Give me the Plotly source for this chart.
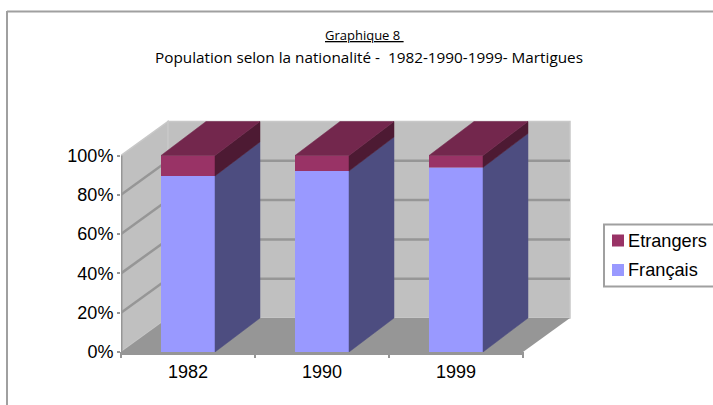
import plotly.graph_objects as go

categories = ["1982", "1990", "1999"]
francais = [89.6, 92.1, 93.9]
etrangers = [10.4, 7.9, 6.1]
y_ticks = [0, 20, 40, 60, 80, 100]
y_labels = ["0%", "20%", "40%", "60%", "80%", "100%"]
legend_names = ["Etrangers", "Français"]

W, H = 713, 405
L, R, T, B = 121, 575, 115, 352
UX = 134.0      # px per category
UY = 196.5 / 100
DX = 47 / UX    # wall depth, category units
DXB = 45 / UX   # bar depth
DY = 34 / UY    # depth, percent units
BW = 54 / UX    # bar width
x0, x1 = -0.5, -0.5 + (R - L) / UX
xs = list(range(len(categories)))
xl, xr = -0.5, len(categories) - 0.5

C_WALL, C_FLOOR, C_GRID = "#C0C0C0", "#969696", "#969696"
C_FR, C_FR_SIDE = "#9999FF", "#4D4D80"
C_ET, C_ET_SIDE, C_ET_TOP = "#993366", "#4D1A33", "#73274D"
INK = "#000000"


def px(v):
    return (v - L) / (R - L)


def py(v):
    return (B - v) / (B - T)


def poly(pts):
    return "M" + " L".join(f"{a},{b}" for a, b in pts) + " Z"


shapes = []
def add_poly(pts, fill, line="rgba(0,0,0,0)", w=0):
    shapes.append(dict(type="path", path=poly(pts), xref="x", yref="y", fillcolor=fill,
                       line=dict(color=line, width=w), layer="below"))

def add_line(a, b, c=C_GRID, w=2.5):
    shapes.append(dict(type="line", xref="x", yref="y", x0=a[0], y0=a[1], x1=b[0], y1=b[1],
                       line=dict(color=c, width=w), layer="below"))

def add_x_line(a, b, ya, yb, w):
    shapes.append(dict(type="line", xref="paper", yref="paper", x0=px(L + (a - xl) * UX), x1=px(L + (b - xl) * UX),
                       y0=py(ya), y1=py(yb), line=dict(color=C_GRID, width=w), layer="below"))

add_poly([(xl, 0), (xl + DX, DY), (xl + DX, 100 + DY), (xl, 100)], C_WALL, "#C8C8C8", 1.5)
add_poly([(xl + DX, DY), (xr + DX, DY), (xr + DX, 100 + DY), (xl + DX, 100 + DY)], C_WALL, "#C8C8C8", 1.5)
for v in y_ticks[1:-1]:
    add_line((xl, v), (xl + DX, v + DY))
    add_line((xl + DX, v + DY), (xr + DX, v + DY))
add_poly([(xl, 0), (xr, 0), (xr + DX, DY), (xl + DX, DY)], C_FLOOR)
add_line((xl, 0), (xl, 100), w=3)
add_x_line(xl, xr, 353.5, 353.5, 3)
# category boundary ticks below the floor edge
for i in range(len(categories) + 1):
    add_x_line(xl + i, xl + i, 352, 358, 2)

fig = go.Figure()
fig.add_bar(x=xs, y=francais, name="Français", width=BW, marker=dict(color=C_FR, line_width=0), showlegend=False)
fig.add_bar(x=xs, y=etrangers, base=francais, name="Etrangers", width=BW, marker=dict(color=C_ET, line_width=0), showlegend=False)


def face(pts, color):
    fig.add_scatter(x=[p[0] for p in pts] + [pts[0][0]], y=[p[1] for p in pts] + [pts[0][1]],
                    mode="lines", fill="toself", fillcolor=color, line=dict(width=0.5, color=color),
                    showlegend=False, hoverinfo="skip", cliponaxis=False)


for x, f, e in zip(xs, francais, etrangers):
    a, b = x - BW / 2, x + BW / 2
    top = f + e
    face([(b, 0), (b + DXB, DY), (b + DXB, f + DY), (b, f)], C_FR_SIDE)
    face([(b, f), (b + DXB, f + DY), (b + DXB, top + DY), (b, top)], C_ET_SIDE)
    face([(a, top), (b, top), (b + DXB, top + DY), (a + DXB, top + DY)], C_ET_TOP)


FRAME = "#A0A0A0"
def paper_line(xa, ya, xb, yb):
    shapes.append(dict(type="line", xref="paper", yref="paper", x0=px(xa), x1=px(xb), y0=py(ya), y1=py(yb),
                       line=dict(color=FRAME, width=2)))


paper_line(7, 11.5, 713, 11.5)
paper_line(7, 11, 7, 405)
# legend box and swatches
shapes.append(dict(type="rect", xref="paper", yref="paper", x0=px(604), x1=px(720), y0=py(224.5), y1=py(286.5),
                   fillcolor="white", line=dict(color=FRAME, width=2)))
legend_colors = [C_ET, C_FR]
legend_ys = [240.5, 270]
annots = []
for n, c, ly in zip(legend_names, legend_colors, legend_ys):
    shapes.append(dict(type="rect", xref="paper", yref="paper", x0=px(612), x1=px(624), y0=py(ly - 6), y1=py(ly + 6),
                       fillcolor=c, line_width=0))
    annots.append(dict(text=n, xref="paper", yref="paper", x=px(628), y=py(ly), showarrow=False,
                       xanchor="left", yanchor="middle", xshift=-2, font=dict(family="Liberation Sans", size=18.2, color=INK)))

TF = "Open Sans"
annots += [
    dict(text="<u>Graphique 8 </u>", xref="paper", yref="paper", x=px(364), y=py(35), showarrow=False,
         xanchor="center", yanchor="middle", font=dict(family=TF, size=13, color=INK)),
    dict(text="Population selon la nationalité -  1982-1990-1999- Martigues", xref="paper", yref="paper",
         x=px(369), y=py(57), showarrow=False, xanchor="center", yanchor="middle",
         font=dict(family=TF, size=15.3, color=INK)),
]

fig.update_layout(
    width=W, height=H, margin=dict(l=L, r=W - R, t=T, b=H - B, pad=0),
    paper_bgcolor="white", plot_bgcolor="rgba(0,0,0,0)",
    shapes=shapes, barmode="overlay", showlegend=False,
    font=dict(family="Liberation Sans", size=18, color=INK),
    xaxis=dict(range=[x0, x1], tickmode="array", tickvals=xs, ticktext=categories,
               showgrid=False, zeroline=False, showline=False, ticks="", ticklabelstandoff=7),
    yaxis=dict(range=[0, (B - T) / UY], tickmode="array", tickvals=y_ticks, ticktext=y_labels,
               showgrid=False, zeroline=False, showline=False, ticks="outside", ticklen=3,
               tickwidth=2, tickcolor=C_GRID),
    annotations=annots,
)
fig.write_html("out.html", config={"displayModeBar": False},
               post_script="document.body.style.margin='0';document.body.style.overflow='hidden';")
